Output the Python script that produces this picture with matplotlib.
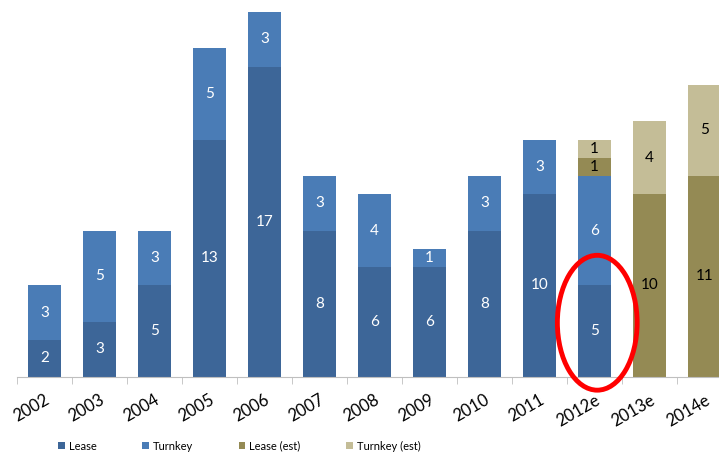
import matplotlib.pyplot as plt
from matplotlib.patches import Ellipse
import numpy as np

years = ['2002', '2003', '2004', '2005', '2006', '2007', '2008', '2009',
         '2010', '2011', '2012e', '2013e', '2014e']
lease = [2, 3, 5, 13, 17, 8, 6, 6, 8, 10, 5, 0, 0]
turnkey = [3, 5, 3, 5, 3, 3, 4, 1, 3, 3, 6, 0, 0]
lease_est = [0, 0, 0, 0, 0, 0, 0, 0, 0, 0, 1, 10, 11]
turnkey_est = [0, 0, 0, 0, 0, 0, 0, 0, 0, 0, 1, 4, 5]

plt.rcParams['font.family'] = ['Lato', 'DejaVu Sans']

fig = plt.figure(figsize=(7.19, 4.62), dpi=100)
ax = fig.add_axes([17 / 719, 85.5 / 462, 715 / 719, 364.5 / 462])

x = np.arange(len(years))
series = [
    (lease, 'Lease', '#3d6698', 'white'),
    (turnkey, 'Turnkey', '#4a7cb6', 'white'),
    (lease_est, 'Lease (est)', '#948a54', 'black'),
    (turnkey_est, 'Turnkey (est)', '#c4bd97', 'black'),
]
bottom = np.zeros(len(years))
for vals, name, col, tcol in series:
    vals = np.array(vals)
    ax.bar(x, vals, 0.6, bottom=bottom, color=col, label=name,
           edgecolor='none')
    for xi, b, v in zip(x, bottom, vals):
        if v > 0:
            ax.text(xi, b + v / 2, str(v), ha='center', va='center',
                    color=tcol, fontsize=11)
    bottom += vals

# circle around the 2012e lease bar
ax.add_patch(Ellipse((10.05, 2.95), 1.45, 7.4, fill=False, edgecolor='#ff0000',
                     linewidth=3.5, clip_on=False, zorder=5))

ax.set_xlim(-0.5, len(years) - 0.5)
ax.set_ylim(0, 20)
ax.set_yticks([])
for s in ['top', 'right', 'left']:
    ax.spines[s].set_visible(False)
ax.spines['bottom'].set_color('#bfbfbf')

ax.set_xticks(np.arange(len(years) + 1) - 0.5, minor=True)
ax.tick_params(axis='x', which='minor', length=5, color='#bfbfbf')
ax.set_xticks(x)
ax.set_xticklabels(years, rotation=30, ha='right', rotation_mode='anchor',
                   fontsize=12)
ax.tick_params(axis='x', which='major', length=0, pad=11)

fig.legend(loc='center left', bbox_to_anchor=(54 / 719, 16 / 462), ncol=4,
           frameon=False, fontsize=8, handlelength=0.6, handleheight=0.6,
           columnspacing=4.1, handletextpad=0.35, borderaxespad=0)

fig.savefig('out.png', dpi=100)
